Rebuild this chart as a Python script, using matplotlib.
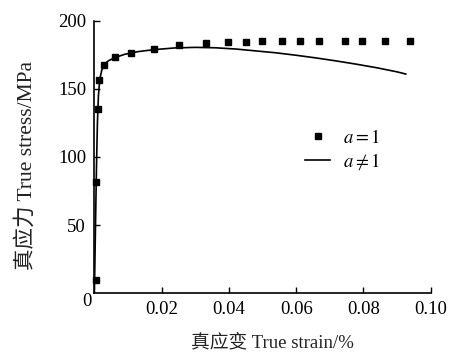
import numpy as np
import matplotlib
matplotlib.use('Agg')
import matplotlib.pyplot as plt

plt.rcParams['font.family'] = ['Liberation Serif', 'Noto Sans CJK SC']
plt.rcParams['mathtext.fontset'] = 'stix'

# a = 1 (square markers)
strain_a1 = [0.0004, 0.0006, 0.0010, 0.0014, 0.0028, 0.0060, 0.0109, 0.0177,
             0.0252, 0.0331, 0.0398, 0.0450, 0.0497, 0.0559, 0.0612, 0.0667,
             0.0745, 0.0795, 0.0865, 0.0939]
stress_a1 = [9.5, 81.5, 135.5, 156.6, 168.0, 173.2, 176.2, 179.2,
             182.0, 183.6, 184.3, 184.8, 185.0, 185.5, 185.5, 185.5,
             185.5, 185.5, 185.5, 185.5]

# a != 1 (solid line)
strain_an = [0, 0.0003, 0.0006, 0.0009, 0.0012, 0.0016, 0.0022, 0.003, 0.004,
             0.006, 0.009, 0.013, 0.018, 0.024, 0.030, 0.036, 0.042, 0.048,
             0.054, 0.060, 0.066, 0.072, 0.078, 0.084, 0.090, 0.0926]
stress_an = [0, 45, 90, 125, 145, 157, 164, 168, 170.5,
             173, 175.5, 177.5, 179, 180.2, 180.6, 180.3, 179.4, 178,
             176.6, 174.8, 172.8, 170.6, 168.2, 165.6, 162.6, 161]

xticks = [0.02, 0.04, 0.06, 0.08, 0.10]
xtick_labels = ['0.02', '0.04', '0.06', '0.08', '0.10']
yticks = [50, 100, 150, 200]

fs = 13.5
fig = plt.figure(figsize=(4.56, 3.54), dpi=100)
ax = fig.add_axes([0.207, 0.1723, 0.7375, 0.7684])

ax.plot(strain_an, stress_an, color='black', lw=1.2, label=r'$a\neq1$', zorder=2)
ax.plot(strain_a1, stress_a1, ls='none', marker='s', ms=5, color='black',
        label=r'$a=1$', clip_on=False, zorder=3)

ax.set_xlim(0, 0.1)
ax.set_ylim(0, 200)
ax.set_xticks(xticks)
ax.set_xticklabels(xtick_labels)
ax.set_yticks(yticks)
ax.tick_params(direction='in', length=4, width=1, labelsize=fs, pad=6)
for s in ['top', 'right']:
    ax.spines[s].set_visible(False)
for s in ['left', 'bottom']:
    ax.spines[s].set_linewidth(1.2)

fig.text(87 / 456, 1 - 302 / 354, '0', ha='center', va='center', fontsize=fs)

ax.set_xlabel('真应变 True strain/%', fontsize=fs, color='#222222')
ax.xaxis.set_label_coords(0.528, -0.148)
ax.set_ylabel('真应力 True stress/MPa', fontsize=15.5, color='#222222')
ax.yaxis.set_label_coords(-0.171, 0.47)

handles, labels = ax.get_legend_handles_labels()
ax.legend(handles[::-1], labels[::-1], loc='upper left', bbox_to_anchor=(0.626, 0.604),
          frameon=False, fontsize=fs, borderpad=0, borderaxespad=0,
          handlelength=1.35, handletextpad=0.7, labelspacing=0.25, markerscale=0.9)

fig.savefig('out.png', dpi=100)
